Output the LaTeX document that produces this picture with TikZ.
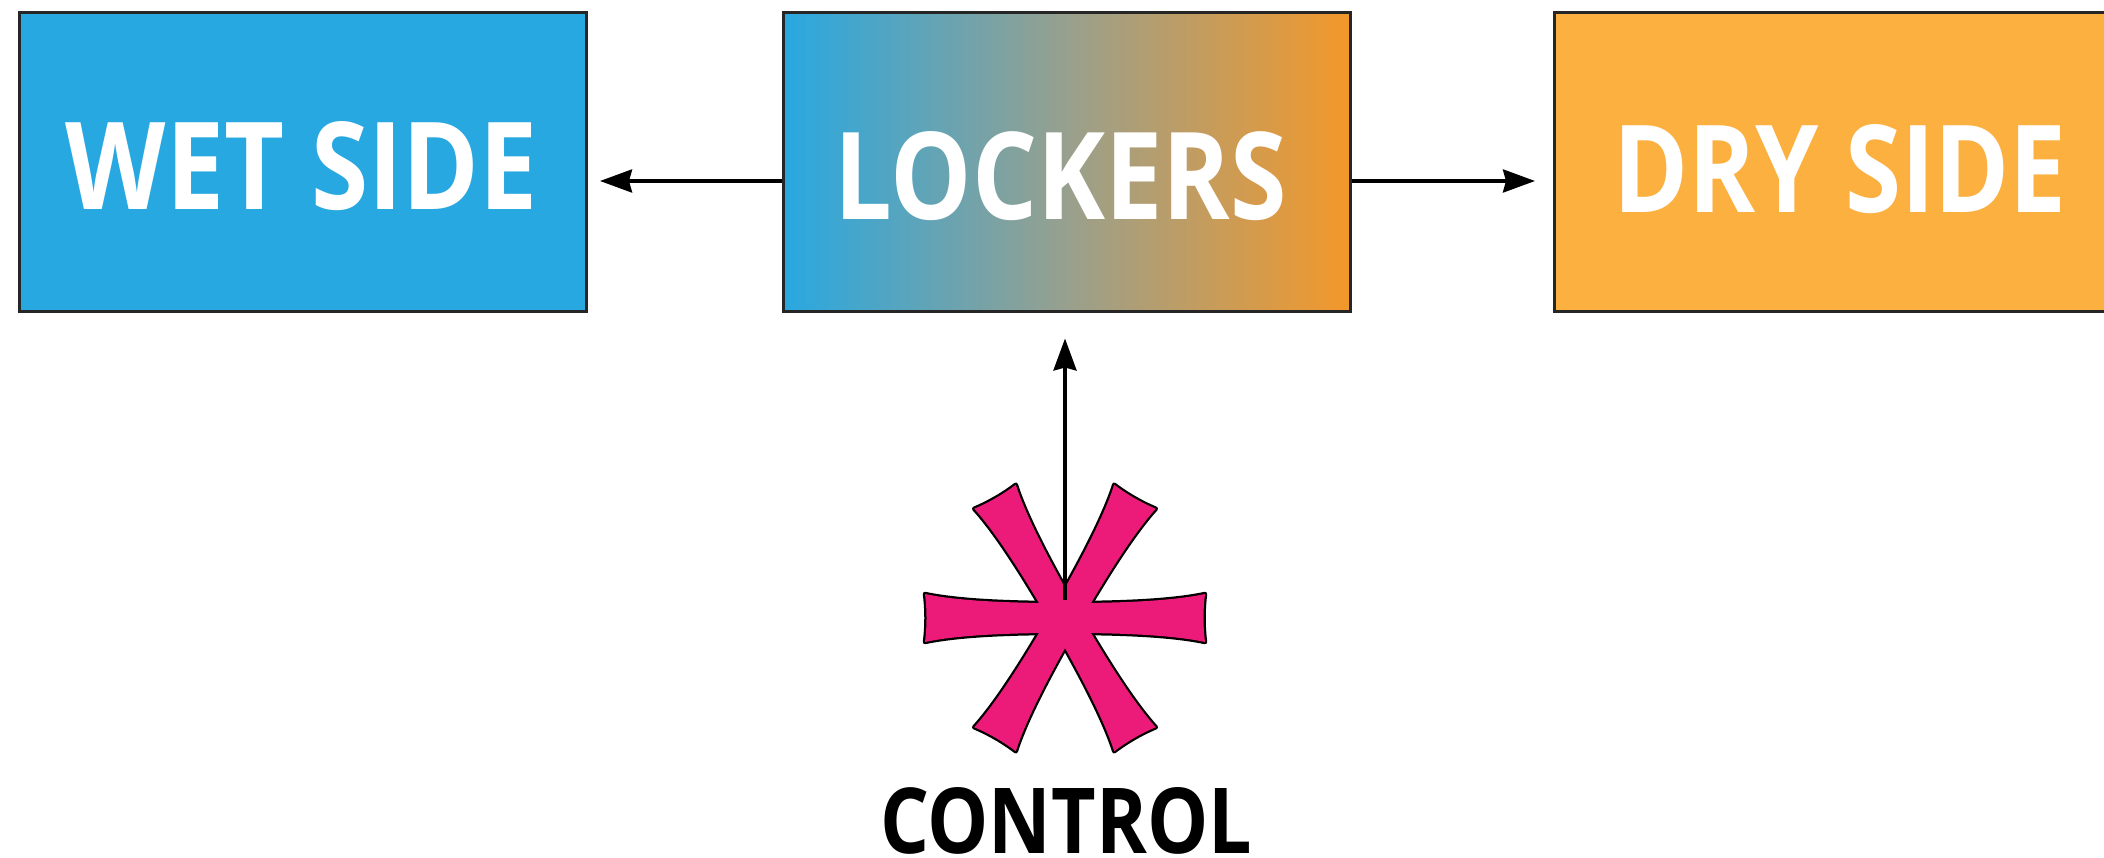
\documentclass[tikz,border=0pt]{standalone}
\usepackage{fontspec}
\setmainfont{Open Sans}
\usetikzlibrary{arrows.meta,calc}
\definecolor{wetblue}{RGB}{40,168,225}
\definecolor{dryorange}{RGB}{251,176,64}
\definecolor{lockorange}{RGB}{243,152,42}
\definecolor{lockmid}{RGB}{152,160,142}
\definecolor{astpink}{RGB}{236,27,121}
\pgfdeclarehorizontalshading{lockshade}{100bp}{color(0bp)=(wetblue); color(25bp)=(wetblue); color(50bp)=(lockmid); color(75bp)=(lockorange); color(100bp)=(lockorange)}
\tikzset{
  sidebox/.style={draw=black!85, line width=3pt, minimum width=567pt, minimum height=299pt, inner sep=0pt, text=white},
  boxtext/.style={font=\fontsize{100}{100}\selectfont\bfseries, inner sep=0pt},
  arr/.style={line width=3.5pt, -{Stealth[length=32pt,width=23pt,inset=3pt]}},
  armline/.style={draw=black, line width=4.5pt, line join=round},
  armfill/.style={fill=astpink}
}
\newcommand{\armpath}{(0,-15) -- (20,-15) .. controls (70,-15.5) and (112,-18) .. (140,-24) .. controls (138,-8) and (138,8) .. (140,24) .. controls (112,18) and (70,15.5) .. (20,15) -- (0,15) -- cycle}
\begin{document}
\begin{tikzpicture}[x=1pt,y=-1pt]
\useasboundingbox (0,0) rectangle (2104,858);
\fill[white] (0,0) rectangle (2104,858);
\node[sidebox, fill=wetblue] (wet) at (303,162.5) {};
\node[sidebox, shading=lockshade] (lockers) at (1066.5,162.5) {};
\node[sidebox, fill=dryorange] (dry) at (1838,162.5) {};
\node[boxtext, text=white] (wett) at (302,166.5) {\resizebox{472pt}{88pt}{WET SIDE}};
\node[boxtext, text=white] (lockt) at (1061,176) {\resizebox{452pt}{88pt}{LOCKERS}};
\node[boxtext, text=white] (dryt) at (1840,169) {\resizebox{454pt}{88pt}{DRY SIDE}};
\coordinate (ay) at (0,181);
\draw[arr, shorten >=12pt] (lockers.west |- ay) -- (wet.east |- ay);
\draw[arr, shorten >=18pt] (lockers.east |- ay) -- (dry.west |- ay);
\coordinate (ast) at (1065,618);
\begin{scope}[shift={(ast)}]
\foreach \a in {0,60,...,300} { \path[armline, rotate=\a] \armpath; }
\foreach \a in {0,60,...,300} { \path[armfill, rotate=\a] \armpath; }
\end{scope}
\draw[arr, shorten <=18pt, shorten >=25pt] (ast) -- (ast |- lockers.south);
\node[boxtext, text=black] (ctrl) at (1066,820.5) {\resizebox{372pt}{66pt}{CONTROL}};
\end{tikzpicture}
\end{document}
